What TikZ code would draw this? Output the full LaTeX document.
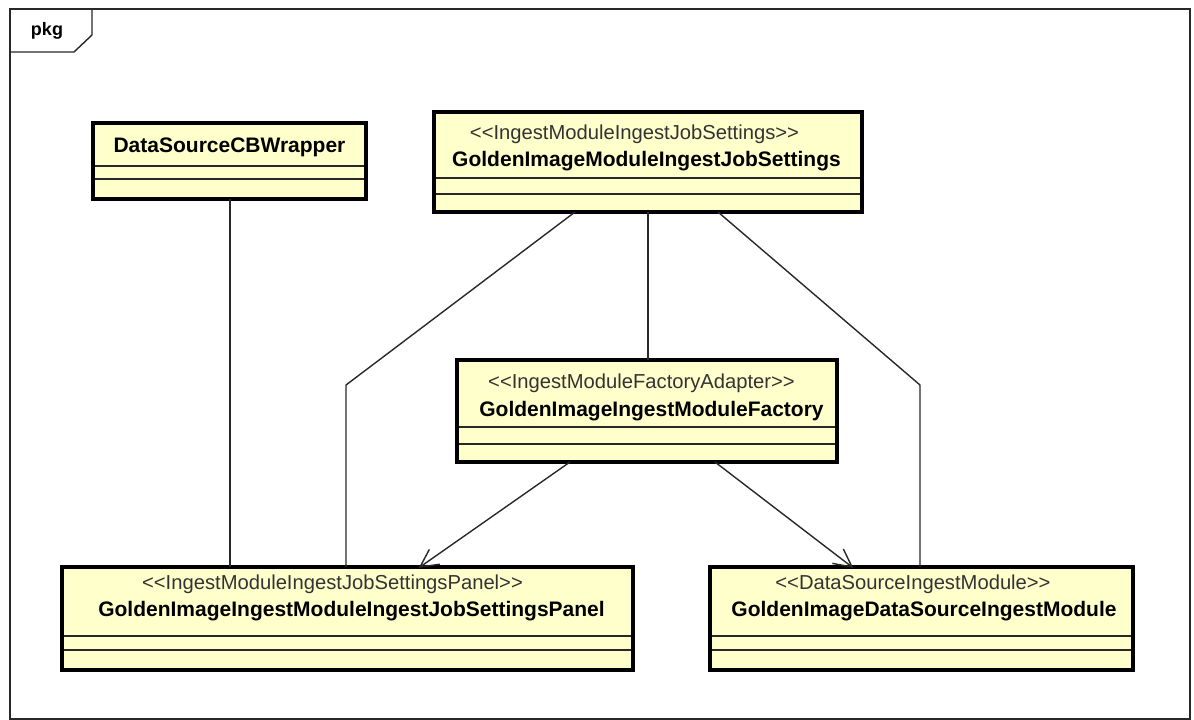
\documentclass[tikz,border=0pt]{standalone}
\usepackage{fontspec}
\setmainfont{Liberation Sans}
\usetikzlibrary{calc}
\definecolor{classfill}{RGB}{255,255,204}
\definecolor{linegray}{RGB}{40,40,40}
\tikzset{
  classbox/.style={draw=black, line width=3.4pt, fill=classfill, inner sep=0pt, outer sep=0pt, anchor=north west},
  sepline/.style={draw=linegray, line width=1.3pt},
  stereo/.style={font=\fontsize{20.2}{22}\selectfont, text=black!80, inner sep=0pt},
  cname/.style={font=\fontsize{21}{23}\bfseries\selectfont, text=black, inner sep=0pt},
  conn/.style={draw=linegray, line width=1.4pt, line join=miter},
}
\newcommand{\classsep}[3]{%
  \draw[sepline] ($(#1.north west)+(1.7,#2)$) -- ($(#1.north east)+(-1.7,#2)$);
  \draw[sepline] ($(#1.north west)+(1.7,#3)$) -- ($(#1.north east)+(-1.7,#3)$);}
% open arrow from #1 to #2 (two barbs at the tip)
\newcommand{\openarrow}[2]{%
  \draw[conn] (#1) -- (#2);
  \draw[conn] ($(#2)!20pt!27:(#1)$) -- (#2) -- ($(#2)!20pt!-27:(#1)$);}
\begin{document}
\begin{tikzpicture}[x=1pt,y=-1pt]
\useasboundingbox (0,0) rectangle (1194,720);
% package frame and its tab
\draw[draw=linegray, line width=1.4pt] (10,9) rectangle (1190,719);
\draw[draw=linegray, line width=1.4pt] (10,52) -- (74,52) -- (92,35) -- (92,9);
\node[font=\fontsize{18}{20}\bfseries\selectfont, inner sep=0pt] (pkg) at (47,31) {pkg};

% classes
\node[classbox, minimum width=273pt, minimum height=76pt] (cb) at (93,123) {};
\classsep{cb}{43}{56}
\node[cname] (cbname) at (229.5,147) {DataSourceCBWrapper};

\node[classbox, minimum width=428pt, minimum height=100pt] (js) at (434,112) {};
\classsep{js}{66}{82}
\node[stereo] (jsst) at (634.5,134) {<{}<IngestModuleIngestJobSettings>{}>};
\node[cname] (jsname) at (646.5,161) {GoldenImageModuleIngestJobSettings};

\node[classbox, minimum width=380pt, minimum height=102pt] (fac) at (457,360) {};
\classsep{fac}{67}{84}
\node[stereo] (facst) at (641.5,383) {<{}<IngestModuleFactoryAdapter>{}>};
\node[cname] (facname) at (651.5,411) {GoldenImageIngestModuleFactory};

\node[classbox, minimum width=571pt, minimum height=103pt] (pan) at (62,567) {};
\classsep{pan}{69}{83}
\node[stereo] (panst) at (332.5,584) {<{}<IngestModuleIngestJobSettingsPanel>{}>};
\node[cname] (panname) at (351.5,611) {GoldenImageIngestModuleIngestJobSettingsPanel};

\node[classbox, minimum width=423pt, minimum height=103pt] (dsim) at (710,567) {};
\classsep{dsim}{69}{83}
\node[stereo] (dsimst) at (913,584) {<{}<DataSourceIngestModule>{}>};
\node[cname] (dsimname) at (924,611) {GoldenImageDataSourceIngestModule};

% associations
\draw[conn] (230,0 |- cb.south) -- (230,0 |- pan.north);
\draw[conn] (575,0 |- js.south) -- (346,385) -- (346,0 |- pan.north);
\draw[conn] (648,0 |- js.south) -- (648,0 |- fac.north);
\draw[conn] (718,0 |- js.south) -- (920,385) -- (920,0 |- dsim.north);

% factory creates the panel and the module
\coordinate (facL) at (570,0 |- fac.south);
\coordinate (panT) at (420,0 |- pan.north);
\coordinate (facR) at (715,0 |- fac.south);
\coordinate (dsimT) at (852,0 |- dsim.north);
\openarrow{facL}{panT}
\openarrow{facR}{dsimT}
\end{tikzpicture}
\end{document}
